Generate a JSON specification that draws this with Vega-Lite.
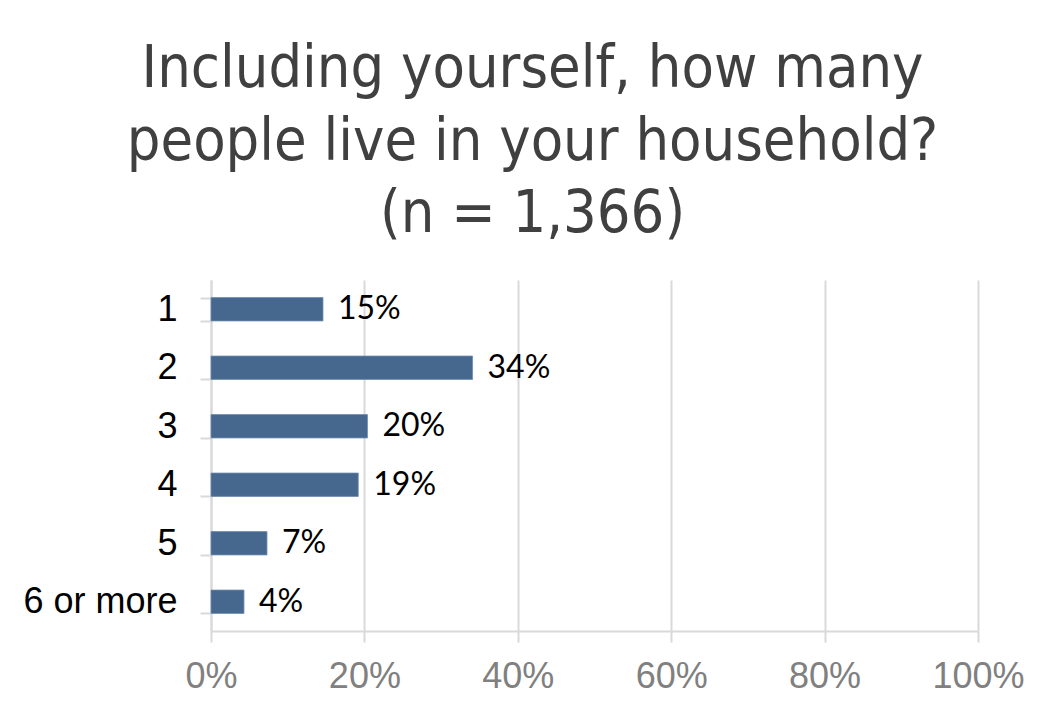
{
  "$schema": "https://vega.github.io/schema/vega-lite/v6.json",
  "width": 767,
  "height": 351,
  "autosize": {"type": "none"},
  "padding": {"left": 211, "top": 280, "right": 65, "bottom": 75},
  "background": "white",
  "title": {
    "text": ["Including yourself, how many", "people live in your household?", "(n = 1,366)"],
    "font": "Liberation Sans Narrow, DejaVu Sans Condensed, sans-serif",
    "fontSize": 59,
    "fontWeight": "normal",
    "color": "#404040",
    "lineHeight": 72.5,
    "anchor": "middle",
    "dx": -62,
    "offset": 18
  },
  "data": {
    "values": [
      {"size": "1", "share": 0.146},
      {"size": "2", "share": 0.341},
      {"size": "3", "share": 0.204},
      {"size": "4", "share": 0.192},
      {"size": "5", "share": 0.073},
      {"size": "6 or more", "share": 0.043}
    ]
  },
  "encoding": {
    "y": {
      "field": "size",
      "type": "nominal",
      "sort": null,
      "title": null,
      "scale": {"paddingInner": 0.6, "paddingOuter": 0.3},
      "axis": {
        "tickBand": "extent",
        "tickSize": 11,
        "tickColor": "#d9d9d9",
        "tickWidth": 2,
        "domainColor": "#d9d9d9",
        "domainWidth": 2,
        "labelFont": "Liberation Sans",
        "labelFontSize": 36,
        "labelColor": "#000000",
        "labelPadding": 23,
        "grid": false
      }
    },
    "x": {
      "field": "share",
      "type": "quantitative",
      "title": null,
      "scale": {"domain": [0, 1], "nice": false},
      "axis": {
        "values": [0, 0.2, 0.4, 0.6, 0.8, 1],
        "format": ".0%",
        "grid": true,
        "gridColor": "#d9d9d9",
        "gridWidth": 2,
        "tickSize": 11,
        "tickColor": "#d9d9d9",
        "tickWidth": 2,
        "domainColor": "#d9d9d9",
        "domainWidth": 2,
        "labelFont": "Liberation Sans",
        "labelFontSize": 36,
        "labelColor": "#808080",
        "labelPadding": 17,
        "labelFlush": false,
        "labelOverlap": false,
        "labelBound": false
      }
    }
  },
  "layer": [
    {"mark": {"type": "bar", "color": "#46688F", "stroke": "#6f8db0", "strokeWidth": 0.8}},
    {
      "mark": {"type": "text", "align": "left", "baseline": "middle", "dx": 15, "font": "Lato", "fontSize": 32, "color": "#000000"},
      "encoding": {"text": {"field": "share", "type": "quantitative", "format": ".0%"}}
    }
  ],
  "config": {"view": {"stroke": null}}
}
